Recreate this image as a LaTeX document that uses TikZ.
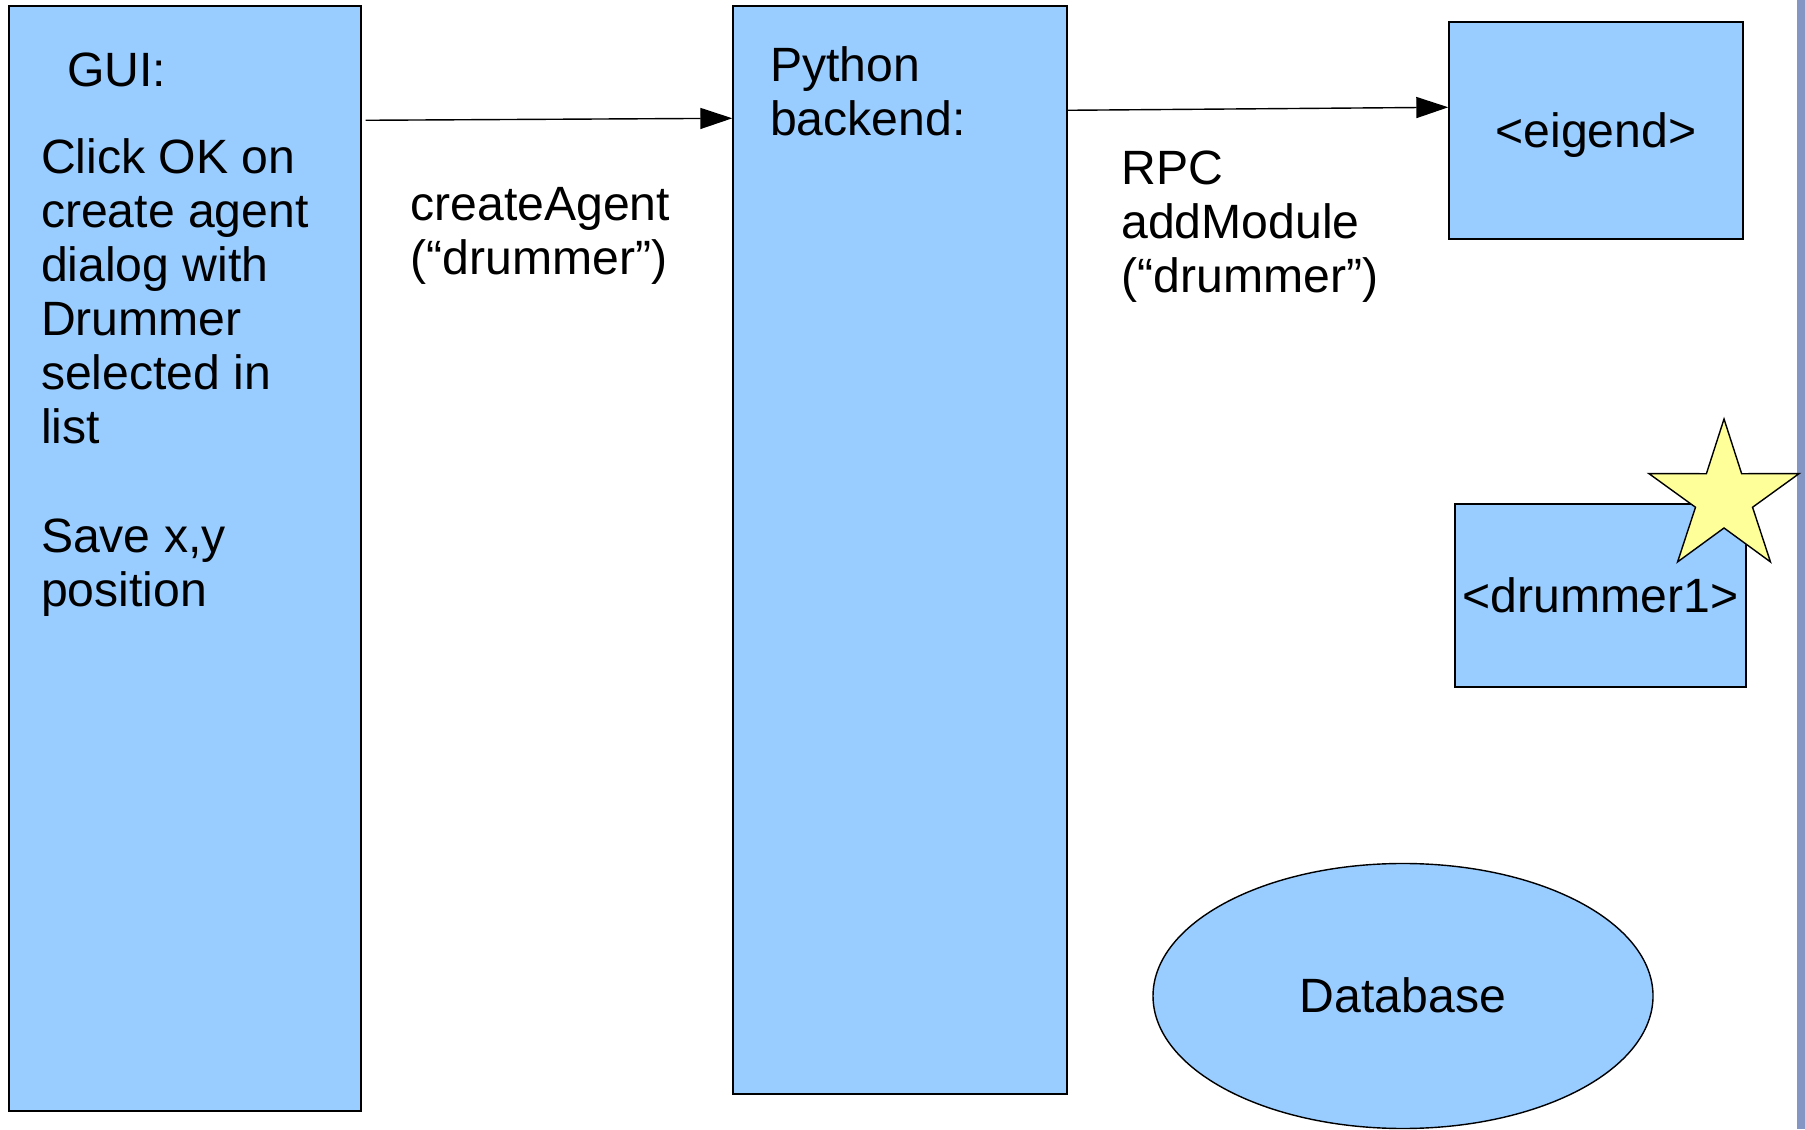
\documentclass[tikz,border=0pt]{standalone}
\usepackage{fontspec}
\setmainfont{Liberation Sans}
\usetikzlibrary{calc,arrows.meta,shapes.geometric}

\definecolor{boxblue}{HTML}{99CCFF}
\definecolor{staryellow}{HTML}{FFFF99}
\definecolor{edgeblue}{RGB}{132,150,196}

\tikzset{
    block/.style={rectangle, draw=black, fill=boxblue, line width=0.4pt, inner sep=0pt,
                  text height=12.4pt, text depth=2.9pt},
    txt/.style={inner sep=0pt, align=left, anchor=base west},
    call/.style={-{Triangle[length=0.32cm,width=0.21cm]}, line width=0.4pt},
}

\begin{document}
\begin{tikzpicture}[font=\fontsize{13.7pt}{15.4pt}\selectfont]
\useasboundingbox (0,0) rectangle (18.05,11.29);
% window edge on the right
\fill[edgeblue] (17.97,0) rectangle (18.05,11.29);

% the three layers
\node[block, minimum width=3.52cm, minimum height=11.05cm] (gui) at (1.85,5.705) {};
\node[block, minimum width=3.34cm, minimum height=10.88cm] (python) at (9.00,5.79) {};
\node[block, minimum width=2.94cm, minimum height=2.17cm] (eigend) at (15.96,9.985) {<eigend>};
\node[block, minimum width=2.91cm, minimum height=1.83cm] (drummer) at (16.005,5.335) {<drummer1>};
\node[block, ellipse, minimum width=5.00cm, minimum height=2.65cm] (database) at (14.03,1.33) {Database};

% new agent marker
\begin{scope}[shift={(17.24,6.31)}]
    \draw[fill=staryellow, line width=0.4pt]
        (90:0.79) -- (126:0.30) -- (162:0.79) -- (198:0.30) -- (234:0.79)
        -- (270:0.30) -- (306:0.79) -- (342:0.30) -- (18:0.79) -- (54:0.30) -- cycle;
\end{scope}

% base west of a text block = baseline of its last line
\node[txt] (gui title) at ($ (gui.north west) + (0.58,-0.81) $) {GUI:};
\node[txt] (gui steps) at ($ (gui.north west) + (0.32,-6.01) $)
    {Click OK on\\create agent\\dialog with\\Drummer\\selected in\\list\\[15.4pt]Save x,y\\position};
\node[txt] (python title) at ($ (python.north west) + (0.37,-1.30) $) {Python\\backend:};

\draw[call] ($ (gui.north east) + (0.04,-1.15) $) -- ($ (python.north west) + (0,-1.13) $);
\node[txt] (create call) at ($ (gui.north east) + (0.48,-2.69) $) {createAgent\\(“drummer”)};

\draw[call] ($ (python.north east) + (0,-1.05) $) -- ($ (eigend.north west) + (0,-0.86) $);
\node[txt] (rpc call) at ($ (python.north east) + (0.53,-2.87) $) {RPC\\addModule\\(“drummer”)};
\end{tikzpicture}
\end{document}
